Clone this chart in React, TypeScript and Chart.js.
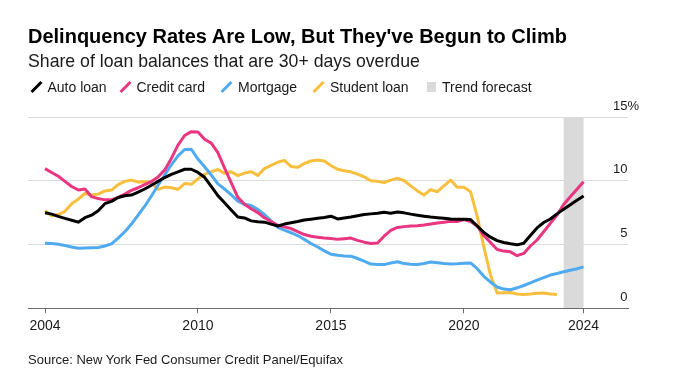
import React, { useEffect, useRef } from "react";
import { Chart, registerables } from "chart.js";

Chart.register(...registerables);

const FONT = '"Liberation Sans", Arial, Helvetica, sans-serif';

// Quarterly observations, 2004 Q1 .. 2024 Q2 (last three quarters are the trend forecast)
const firstYear = 2004;
const quarterCount = 82;
const quarters: string[] = [];
for (let i = 0; i < quarterCount; i++) {
  quarters.push(`${firstYear + Math.floor(i / 4)} Q${(i % 4) + 1}`);
}
const quarterToX = (label: string) => {
  const [y, q] = label.split(" Q");
  return Number(y) + Number(q) / 4;
};

const autoLoan = [
  7.49, 7.38, 7.2, 7.05, 6.9, 6.75, 7.1, 7.3, 7.65, 8.2, 8.38, 8.68, 8.82, 8.88, 9.1, 9.35,
  9.65, 9.95, 10.25, 10.5, 10.7, 10.9, 10.9, 10.65, 10.27, 9.55, 8.83, 8.27, 7.7, 7.15, 7.08, 6.85,
  6.78, 6.75, 6.6, 6.45, 6.6, 6.7, 6.8, 6.92, 6.98, 7.05, 7.12, 7.22, 7.0, 7.08, 7.15, 7.25,
  7.35, 7.4, 7.45, 7.52, 7.45, 7.54, 7.48, 7.38, 7.3, 7.22, 7.15, 7.1, 7.05, 6.99, 6.98, 6.97,
  6.95, 6.45, 5.95, 5.57, 5.3, 5.15, 5.05, 4.97, 5.1, 5.7, 6.3, 6.72, 7.0, 7.4, 7.76, 8.11,
  8.46, 8.8,
];

const creditCard = [
  10.95, 10.65, 10.35, 9.95, 9.55, 9.27, 9.35, 8.75, 8.6, 8.5, 8.5, 8.7, 8.95, 9.25, 9.45, 9.7,
  9.95, 10.3, 10.85, 11.75, 12.8, 13.55, 13.85, 13.82, 13.25, 12.95, 12.2, 11.0, 9.85, 8.7, 8.15, 7.8,
  7.5, 7.1, 6.8, 6.5, 6.38, 6.25, 6.0, 5.78, 5.65, 5.57, 5.5, 5.46, 5.4, 5.45, 5.5, 5.32,
  5.18, 5.08, 5.12, 5.65, 6.1, 6.34, 6.4, 6.44, 6.46, 6.52, 6.6, 6.68, 6.75, 6.82, 6.8, 6.95,
  6.8, 6.45, 5.7, 5.15, 4.6, 4.48, 4.42, 4.12, 4.3, 4.88, 5.35, 6.0, 6.65, 7.3, 8.14, 8.74,
  9.34, 9.92,
];

const mortgage = [
  5.1, 5.08, 5.02, 4.92, 4.8, 4.7, 4.72, 4.74, 4.76, 4.88, 5.05, 5.5, 6.0, 6.6, 7.3, 8.0,
  8.8, 9.65, 10.45, 11.25, 11.95, 12.45, 12.47, 11.7, 11.1, 10.45, 9.75, 9.35, 8.9, 8.4, 8.15, 8.05,
  7.75, 7.35, 6.85, 6.35, 6.12, 5.92, 5.7, 5.4, 5.08, 4.8, 4.5, 4.24, 4.15, 4.1, 4.08, 3.9,
  3.7, 3.46, 3.42, 3.42, 3.55, 3.64, 3.5, 3.45, 3.43, 3.5, 3.62, 3.56, 3.5, 3.46, 3.48, 3.53,
  3.55, 3.1, 2.5, 2.05, 1.66, 1.5, 1.45, 1.6, 1.78, 1.98, 2.2, 2.4, 2.6, 2.72, 2.86, 2.98,
  3.1, 3.24,
];

const studentLoan: (number | null)[] = [
  7.65, 7.25, 7.35, 7.6, 8.2, 8.55, 9.0, 8.88, 8.95, 9.2, 9.27, 9.7, 9.95, 10.05, 9.9, 9.92,
  9.85, 9.32, 9.5, 9.45, 9.33, 9.78, 9.72, 10.15, 10.5, 10.7, 10.88, 10.58, 10.7, 10.4, 10.6, 10.71,
  10.42, 10.95, 11.2, 11.45, 11.6, 11.12, 11.05, 11.35, 11.55, 11.63, 11.55, 11.2, 10.9, 10.78, 10.7, 10.52,
  10.3, 10.0, 9.95, 9.86, 10.05, 10.19, 10.02, 9.6, 9.2, 8.88, 9.3, 9.14, 9.6, 10.05, 9.48, 9.48,
  9.14, 7.2, 4.8, 2.6, 1.2, 1.22, 1.23, 1.12, 1.08, 1.12, 1.18, 1.2, 1.12, 1.07, null, null,
  null, null,
];

const forecastStart = "2023 Q3";
const forecastEnd = "2024 Q2";

const xTickValues = [2004.25, 2010, 2015, 2020, 2024.5];
const xTickLabels = ["2004", "2010", "2015", "2020", "2024"];
const yTickValues = [0, 5, 10, 15];

const COLORS = {
  auto: "#000000",
  credit: "#ea3580",
  mortgage: "#4faaf0",
  student: "#f8bf3e",
  band: "#dadada",
  grid: "#dcdcdc",
  axis: "#6a6a6a",
  text: "#1a1a1a",
};

const legendItems = [
  { label: "Auto loan", color: COLORS.auto, icon: 30, text: 47.5, kind: "line" },
  { label: "Credit card", color: COLORS.credit, icon: 119, text: 136.5, kind: "line" },
  { label: "Mortgage", color: COLORS.mortgage, icon: 220, text: 238, kind: "line" },
  { label: "Student loan", color: COLORS.student, icon: 312.5, text: 330, kind: "line" },
  { label: "Trend forecast", color: COLORS.band, icon: 427, text: 442, kind: "box" },
];

export default function App() {
  const canvasRef = useRef<HTMLCanvasElement | null>(null);

  useEffect(() => {
    if (!canvasRef.current) return;
    const xs = quarters.map(quarterToX);
    const toPoints = (arr: (number | null)[]) => xs.map((x, i) => ({ x, y: arr[i] }));

    const bandPlugin = {
      id: "forecastBand",
      beforeDraw(chart: any) {
        const { ctx, chartArea, scales } = chart;
        const x0 = scales.x.getPixelForValue(quarterToX(forecastStart));
        const x1 = scales.x.getPixelForValue(quarterToX(forecastEnd));
        ctx.save();
        ctx.fillStyle = COLORS.band;
        ctx.fillRect(x0, chartArea.top, x1 - x0, chartArea.bottom - chartArea.top);
        ctx.restore();
      },
    };

    const yLabelPlugin = {
      id: "yLabels",
      afterDraw(chart: any) {
        const { ctx, scales, chartArea } = chart;
        ctx.save();
        ctx.font = `13px ${FONT}`;
        ctx.fillStyle = COLORS.text;
        ctx.textBaseline = "alphabetic";
        const right = chartArea.right - 0.5;
        yTickValues.forEach((v) => {
          const y = scales.y.getPixelForValue(v) - 7.5;
          ctx.textAlign = "right";
          ctx.fillText(String(v), right, y);
          if (v === yTickValues[yTickValues.length - 1]) {
            ctx.textAlign = "left";
            ctx.fillText("%", right, y);
          }
        });
        ctx.restore();
      },
    };

    const chart = new Chart(canvasRef.current, {
      type: "line",
      data: {
        datasets: [
          { label: "Auto loan", data: toPoints(autoLoan), borderColor: COLORS.auto },
          { label: "Credit card", data: toPoints(creditCard), borderColor: COLORS.credit },
          { label: "Mortgage", data: toPoints(mortgage), borderColor: COLORS.mortgage },
          { label: "Student loan", data: toPoints(studentLoan), borderColor: COLORS.student },
        ].map((d) => ({
          ...d,
          borderWidth: 3,
          pointRadius: 0,
          tension: 0,
          fill: false,
          spanGaps: false,
          borderJoinStyle: "round" as const,
        })),
      },
      options: {
        animation: false,
        responsive: false,
        maintainAspectRatio: false,
        devicePixelRatio: 1,
        layout: { padding: { left: 28, right: 52, top: 117, bottom: 43 } },
        plugins: { legend: { display: false }, tooltip: { enabled: false }, title: { display: false } },
        scales: {
          x: {
            type: "linear",
            min: 2003.61,
            max: 2026.17,
            afterBuildTicks: (scale: any) => {
              scale.ticks = xTickValues.map((v) => ({ value: v }));
            },
            ticks: {
              autoSkip: false,
              maxRotation: 0,
              padding: 5,
              color: COLORS.text,
              font: { family: FONT, size: 14 },
              callback: (value: any) => xTickLabels[xTickValues.indexOf(Number(value))] ?? "",
            },
            grid: { display: true, drawOnChartArea: false, drawTicks: true, tickLength: 5, color: COLORS.axis, lineWidth: 1 },
            border: { display: true, color: COLORS.axis, width: 1 },
          },
          y: {
            type: "linear",
            position: "right",
            min: 0,
            max: 15,
            afterBuildTicks: (scale: any) => {
              scale.ticks = yTickValues.map((v) => ({ value: v }));
            },
            ticks: { display: false },
            grid: { color: COLORS.grid, lineWidth: 1, drawTicks: false },
            border: { display: false },
          },
        },
      },
      plugins: [bandPlugin, yLabelPlugin],
    } as any);

    return () => chart.destroy();
  }, []);

  const abs = (s: React.CSSProperties): React.CSSProperties => ({ position: "absolute", whiteSpace: "nowrap", ...s });

  return (
    <div style={{ position: "fixed", left: 0, top: 0, width: 680, height: 383, background: "#fff", fontFamily: FONT, overflow: "hidden" }}>
      <canvas ref={canvasRef} width={680} height={383} style={{ position: "absolute", left: 0, top: 0, width: 680, height: 383 }} />
      <div style={abs({ left: 28, top: 25.8, fontSize: 20, lineHeight: "20px", fontWeight: 700, color: "#000" })}>
        Delinquency Rates Are Low, But They've Begun to Climb
      </div>
      <div style={abs({ left: 28, top: 52.7, fontSize: 17.7, lineHeight: "17.7px", color: COLORS.text })}>
        Share of loan balances that are 30+ days overdue
      </div>
      {legendItems.map((it) => (
        <React.Fragment key={it.label}>
          {it.kind === "line" ? (
            <div
              style={abs({
                left: it.icon + 4.5,
                top: 80.2,
                width: 3,
                height: 14,
                background: it.color,
                transform: "rotate(45deg)",
              })}
            />
          ) : (
            <div style={abs({ left: it.icon, top: 82, width: 9, height: 10, background: it.color })} />
          )}
          <div style={abs({ left: it.text, top: 79.9, fontSize: 14, lineHeight: "14px", color: COLORS.text })}>{it.label}</div>
        </React.Fragment>
      ))}
      <div style={abs({ left: 28, top: 353, fontSize: 13, lineHeight: "13px", color: COLORS.text })}>
        Source: New York Fed Consumer Credit Panel/Equifax
      </div>
    </div>
  );
}
